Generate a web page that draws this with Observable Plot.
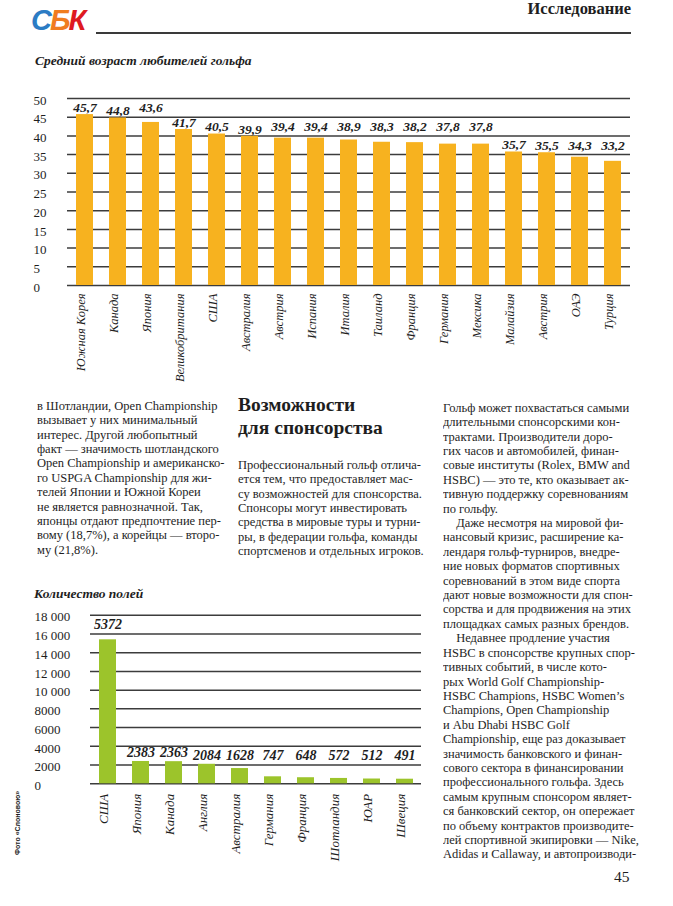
<!DOCTYPE html>
<html><head><meta charset="utf-8">
<script src="https://cdn.jsdelivr.net/npm/d3@7"></script>
<script src="https://cdn.jsdelivr.net/npm/@observablehq/plot@0.6"></script>
<style>
html,body{margin:0;padding:0;background:#fff;}
#page{position:relative;width:673px;height:906px;overflow:hidden;font-family:"Liberation Serif",serif;color:#1e1e1e;}
.abs{position:absolute;white-space:nowrap;}
.body{font-size:13.3px;line-height:14.4px;transform:scaleX(0.94);transform-origin:0 0;}
.ind{padding-left:14px;}
svg{overflow:visible;}
</style></head>
<body><div id="page">
<div class="abs" style="left:31px;top:3px;font-family:'Liberation Sans',sans-serif;font-weight:bold;font-style:italic;font-size:29px;line-height:34px;letter-spacing:-2px;"><span style="color:#2c7cc4">С</span><span style="color:#f07c1f">Б</span><span style="color:#de1a22">К</span></div>
<div class="abs" style="left:96px;top:32px;width:535px;height:2px;background:#3a3a3a;"></div>
<div class="abs" style="right:42px;top:0px;font-weight:bold;font-size:16.5px;line-height:17px;">Исследование</div>
<div class="abs" style="left:35px;top:53px;font-weight:bold;font-style:italic;font-size:13.5px;line-height:16px;">Средний возраст любителей гольфа</div>
<div id="c1" class="abs" style="left:0;top:85px;"></div>

<div class="abs body" style="left:37px;top:398.8px;">в Шотландии, Open Championship<br>вызывает у них минимальный<br>интерес. Другой любопытный<br>факт — значимость шотландского<br>Open Championship и американско-<br>го USPGA Championship для жи-<br>телей Японии и Южной Кореи<br>не является равнозначной. Так,<br>японцы отдают предпочтение пер-<br>вому (18,7%), а корейцы — второ-<br>му (21,8%).</div>

<div class="abs" style="left:238px;top:393px;font-weight:bold;font-size:19.5px;line-height:23px;">Возможности<br>для спонсорства</div>
<div class="abs body" style="left:238px;top:457.8px;">Профессиональный гольф отлича-<br>ется тем, что предоставляет мас-<br>су возможностей для спонсорства.<br>Спонсоры могут инвестировать<br>средства в мировые туры и турни-<br>ры, в федерации гольфа, команды<br>спортсменов и отдельных игроков.</div>

<div class="abs body" style="left:443px;top:400.8px;">Гольф может похвастаться самыми<br>длительными спонсорскими кон-<br>трактами. Производители доро-<br>гих часов и автомобилей, финан-<br>совые институты (Rolex, BMW and<br>HSBC) — это те, кто оказывает ак-<br>тивную поддержку соревнованиям<br>по гольфу.<br><span class="ind"></span>Даже несмотря на мировой фи-<br>нансовый кризис, расширение ка-<br>лендаря гольф-турниров, внедре-<br>ние новых форматов спортивных<br>соревнований в этом виде спорта<br>дают новые возможности для спон-<br>сорства и для продвижения на этих<br>площадках самых разных брендов.<br><span class="ind"></span>Недавнее продление участия<br>HSBC в спонсорстве крупных спор-<br>тивных событий, в числе кото-<br>рых World Golf Championship-<br>HSBC Champions, HSBC Women’s<br>Champions, Open Championship<br>и Abu Dhabi HSBC Golf<br>Championship, еще раз доказывает<br>значимость банковского и финан-<br>сового сектора в финансировании<br>профессионального гольфа. Здесь<br>самым крупным спонсором являет-<br>ся банковский сектор, он опережает<br>по объему контрактов производите-<br>лей спортивной экипировки — Nike,<br>Adidas и Callaway, и автопроизводи-</div>

<div class="abs" style="left:34px;top:586px;font-weight:bold;font-style:italic;font-size:13.5px;line-height:16px;">Количество полей</div>
<div id="c2" class="abs" style="left:0;top:600px;"></div>
<div class="abs" style="left:14px;top:855px;font-family:'Liberation Sans',sans-serif;font-weight:bold;font-size:7px;line-height:8px;transform:rotate(-90deg);transform-origin:0 0;">Фото «Слоновою»</div>
<div class="abs" style="left:614px;top:868px;font-size:15.5px;line-height:18px;">45</div>
</div>
<script>
// Chart 1: Средний возраст любителей гольфа
const ageCountries = ["Южная Корея","Канада","Япония","Великобритания","США","Австралия","Австрия","Испания","Италия","Таиланд","Франция","Германия","Мексика","Малайзия","Австрия","ОАЭ","Турция"];
const ageValues = [45.7,44.8,43.6,41.7,40.5,39.9,39.4,39.4,38.9,38.3,38.2,37.8,37.8,35.7,35.5,34.3,33.2];
const ageTicks = [0,5,10,15,20,25,30,35,40,45,50];

// Chart 2: Количество полей
const fieldCountries = ["США","Япония","Канада","Англия","Австралия","Германия","Франция","Шотландия","ЮАР","Швеция"];
const fieldValues = [15372,2383,2363,2084,1628,747,648,572,512,491];
const fieldLabels = ["5372","2383","2363","2084","1628","747","648","572","512","491"];
const fieldTicks = [0,2000,4000,6000,8000,10000,12000,14000,16000,18000];

const serif = "Liberation Serif, serif";
const gridColor = "#3c3c3c";

// label placement: just above the bar, pushed into the middle of a grid band if it would touch a gridline
function labelLevel(v, step, off, half) {
  let c = v + off;
  const lower = Math.floor(c / step) * step;
  if (c - half < lower) c = lower + step / 2;
  else if (c + half > lower + step) c = lower + step * 1.5;
  return c;
}

const age = ageCountries.map((c,i)=>({i, name:c, value:ageValues[i], label:String(ageValues[i]).replace(".", ",")}));
const c1 = Plot.plot({
  width: 673, height: 300,
  marginTop: 13, marginBottom: 100, marginLeft: 67, marginRight: 43,
  x: {type:"band", domain: d3.range(age.length), paddingInner: 0.5, paddingOuter: 0.25, axis: null},
  y: {domain: [0,50], axis: null},
  style: {fontFamily: serif, background: "transparent"},
  marks: [
    Plot.ruleY(ageTicks, {stroke: gridColor, strokeWidth: 1.5}),
    Plot.barY(age, {x: "i", y: "value", fill: "#f7b21f"}),
    Plot.text(ageTicks, {y: d=>d, text: d=>String(d), frameAnchor: "left", textAnchor: "start", dx: -34, dy: 2, fontSize: 13, fill: "#1e1e1e"}),
    Plot.text(age, {x: "i", y: d => labelLevel(d.value, 5, 1.85, 1.4), text: "label", fontSize: 13.5, fontWeight: "bold", fontStyle: "italic", fill: "#1e1e1e"}),
    Plot.text(age, {x: "i", text: "name", frameAnchor: "bottom", rotate: -90, textAnchor: "end", dy: 8, fontSize: 12.5, fontStyle: "italic", fill: "#1e1e1e"})
  ]
});
document.getElementById("c1").appendChild(c1);

const fields = fieldCountries.map((c,i)=>({i, name:c, value:fieldValues[i], label:fieldLabels[i]}));
const fmt = d => d >= 10000 ? d3.format(",")(d).replace(",", " ") : String(d);
const c2 = Plot.plot({
  width: 673, height: 270,
  marginTop: 14.7, marginBottom: 86.7, marginLeft: 90, marginRight: 252,
  x: {type:"band", domain: d3.range(fields.length), paddingInner: 0.5, paddingOuter: 0.25, axis: null},
  y: {domain: [0,18000], axis: null},
  style: {fontFamily: serif, background: "transparent"},
  marks: [
    Plot.ruleY(fieldTicks, {stroke: gridColor, strokeWidth: 1.5}),
    Plot.barY(fields, {x: "i", y: "value", fill: "#9cc42b"}),
    Plot.text(fieldTicks, {y: d=>d, text: fmt, frameAnchor: "left", textAnchor: "start", dx: -56, dy: 2, fontSize: 13, fill: "#1e1e1e"}),
    Plot.text(fields, {x: "i", y: d => labelLevel(d.value, 2000, 960, 640), text: "label", fontSize: 14, fontWeight: "bold", fontStyle: "italic", fill: "#1e1e1e"}),
    Plot.text(fields, {x: "i", text: "name", frameAnchor: "bottom", rotate: -90, textAnchor: "end", dy: 10, fontSize: 13, fontStyle: "italic", fill: "#1e1e1e"})
  ]
});
document.getElementById("c2").appendChild(c2);
</script>
</body></html>
